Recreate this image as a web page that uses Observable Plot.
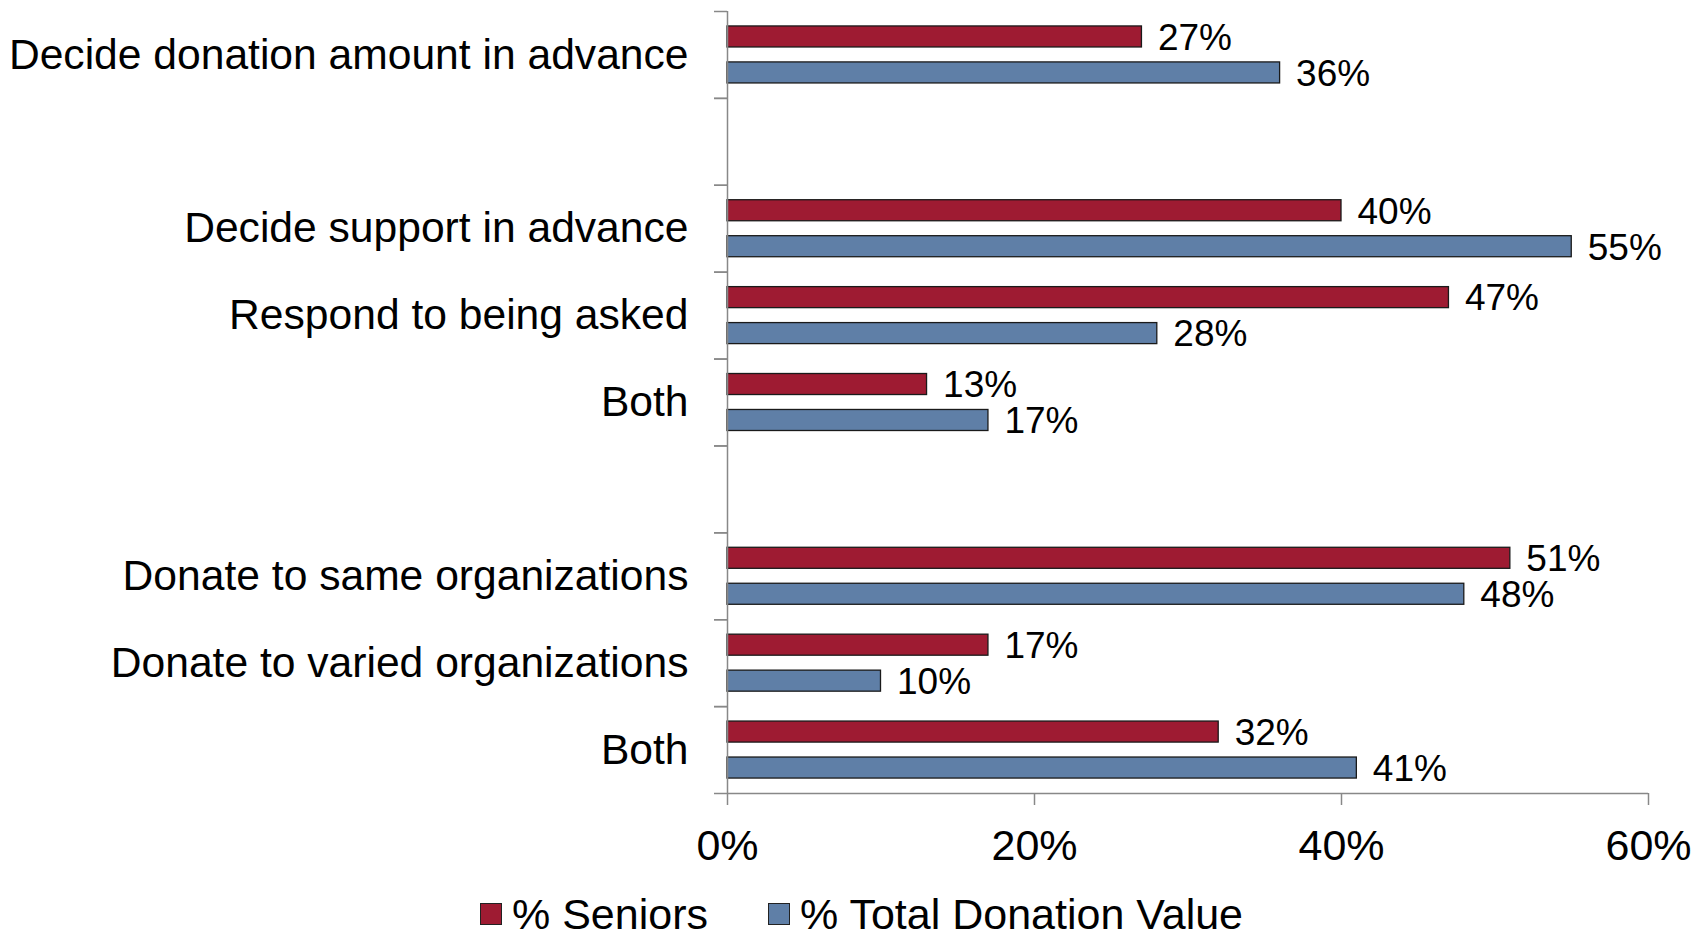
<!DOCTYPE html>
<html>
<head>
<meta charset="utf-8">
<script src="https://cdn.jsdelivr.net/npm/d3@7"></script>
<script src="https://cdn.jsdelivr.net/npm/@observablehq/plot@0.6"></script>
<style>
  html, body { margin: 0; padding: 0; background: #fff; }
  body { width: 1708px; height: 935px; overflow: hidden; font-family: "Liberation Sans", Arial, sans-serif; }
  #legend { display: flex; align-items: center; height: 42px; margin-left: 480px; font-size: 43px; color: #000; }
  .item { display: flex; align-items: center; }
  .sw { width: 20px; height: 20px; border: 1px solid #222; margin-right: 10px; }
</style>
</head>
<body>
<div id="chart"></div>
<div id="legend"></div>
<script>
const categories = ["Decide donation amount in advance", "", "Decide support in advance", "Respond to being asked", "Both", "", "Donate to same organizations", "Donate to varied organizations", "Both"];
const seniors = [27, null, 40, 47, 13, null, 51, 17, 32];
const totalValue = [36, null, 55, 28, 17, null, 48, 10, 41];
const xTicks = [0, 20, 40, 60];
const seriesNames = ["% Seniors", "% Total Donation Value"];
const seriesColors = ["#9E1B32", "#5F7FA7"];

const keys = categories.map((_, i) => "k" + i);
const labelOf = k => categories[+k.slice(1)];
const senRows = seniors.map((v, i) => ({key: keys[i], value: v})).filter(d => d.value != null);
const totRows = totalValue.map((v, i) => ({key: keys[i], value: v})).filter(d => d.value != null);

const H = 893, mt = 11, mb = 100;
const bw = (H - mt - mb) / categories.length;

const chart = Plot.plot({
  width: 1708,
  height: H,
  marginTop: mt,
  marginBottom: mb,
  marginLeft: 727,
  marginRight: 60,
  style: {fontFamily: "'Liberation Sans', Arial, sans-serif", fontSize: "42px", background: "#fff", color: "#000"},
  x: {domain: [0, 60], label: null},
  y: {domain: keys, padding: 0, round: false, label: null},
  marks: [
    Plot.barX(senRows, {x: "value", y: "key", fill: seriesColors[0], stroke: "#1a1a1a", strokeWidth: 1.3,
      insetTop: bw * 0.172, insetBottom: bw * 0.586}),
    Plot.barX(totRows, {x: "value", y: "key", fill: seriesColors[1], stroke: "#1a1a1a", strokeWidth: 1.3,
      insetTop: bw * 0.586, insetBottom: bw * 0.172}),
    Plot.text(senRows, {x: "value", y: "key", text: d => d.value + "%", dx: 16, dy: -bw * 0.207 + 1,
      textAnchor: "start", fontSize: 37, fill: "#000"}),
    Plot.text(totRows, {x: "value", y: "key", text: d => d.value + "%", dx: 16, dy: bw * 0.207 + 1,
      textAnchor: "start", fontSize: 37, fill: "#000"}),
    Plot.ruleX([0], {stroke: "#888", strokeWidth: 1.5}),
    Plot.axisY({tickSize: 13, tickFormat: () => "", label: null, dy: -bw / 2, stroke: "#888", strokeWidth: 1.5}),
    Plot.axisY({tickSize: 13, tickFormat: () => "", label: null, dy: bw / 2, stroke: "#888", strokeWidth: 1.5}),
    Plot.axisY({tickSize: 0, tickPadding: 39, tickFormat: labelOf, label: null, fontSize: 42.6, fill: "#000"}),
    Plot.ruleY([keys[keys.length - 1]], {dy: bw / 2, stroke: "#888", strokeWidth: 1.5}),
    Plot.axisX({ticks: xTicks, tickSize: 12, tickPadding: 24, tickFormat: d => d + "%", label: null, stroke: "#888", strokeWidth: 1.5, fontSize: 43, fill: "#000"})
  ]
});
document.getElementById("chart").appendChild(chart);

const legend = document.getElementById("legend");
seriesNames.forEach((name, i) => {
  const item = document.createElement("div");
  item.className = "item";
  if (i > 0) item.style.marginLeft = "60px";
  const sw = document.createElement("div");
  sw.className = "sw";
  sw.style.background = seriesColors[i];
  const t = document.createElement("span");
  t.textContent = name;
  item.appendChild(sw);
  item.appendChild(t);
  legend.appendChild(item);
});
</script>
</body>
</html>
